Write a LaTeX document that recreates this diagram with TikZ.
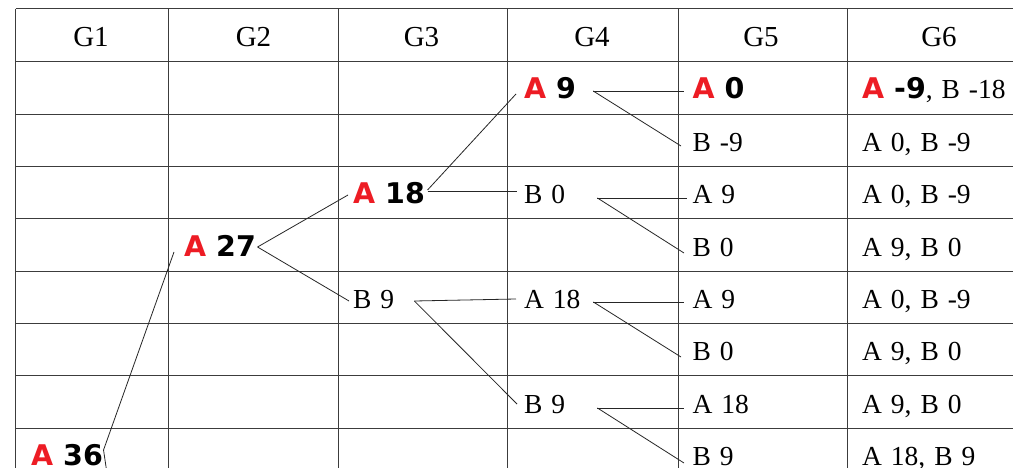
\documentclass[tikz,border=0pt]{standalone}
\usepackage{fontspec}
\setmainfont[WordSpace=1.3]{Liberation Serif}
\newfontfamily\dvsans{DejaVu Sans}
\definecolor{hired}{RGB}{237,28,36}
\definecolor{rule}{RGB}{60,60,60}
\newcommand\bsans{\fontsize{28.5}{30}\selectfont\dvsans\bfseries}
\newcommand\topA[1]{{\bsans{\color{hired}A} #1}}
\tikzset{
  cell/.style={anchor=base west, inner sep=0pt, font=\fontsize{27.5}{30}\selectfont},
  head/.style={anchor=base, inner sep=0pt, font=\fontsize{29}{32}\selectfont},
  grid/.style={draw=rule, line width=1pt},
  branch/.style={draw=black!85, line width=0.8pt},
}
\begin{document}
\begin{tikzpicture}[x=1pt, y=-1pt]
\useasboundingbox (0,0) rectangle (1029,468);
\clip (0,0) rectangle (1029,468);
\fill[white] (0,0) rectangle (1029,468);

% table rules
\foreach \yy in {9,62,114.3,166.6,218.9,271.2,323.5,375.8,428.1}
  \draw[grid] (15.5,\yy) -- (1013,\yy);
\foreach \xx in {15.5,168,338,507,678,847}
  \draw[grid] (\xx,9) -- (\xx,470);

% column headings
\node[head] (h1) at (91,46.5) {G1};
\node[head] (h2) at (253.5,46.5) {G2};
\node[head] (h3) at (421.5,46.5) {G3};
\node[head] (h4) at (592,46.5) {G4};
\node[head] (h5) at (761,46.5) {G5};
\node[head] (h6) at (939,46.5) {G6};

% G1
\node[cell] (a36) at (31,465) {\topA{36}};
% G2
\node[cell] (a27) at (184,256) {\topA{27}};
% G3
\node[cell] (a18c) at (353,204) {\topA{18}};
\node[cell] (b9c) at (353,308.5) {B 9};
% G4
\node[cell] (a9d) at (524,99) {\topA{9}};
\node[cell] (b0d) at (524,204) {B 0};
\node[cell] (a18d) at (524,308.5) {A 18};
\node[cell] (b9d) at (524,413) {B 9};
% G5
\node[cell] (a0e) at (692.5,99) {\topA{0}};
\node[cell] (bm9e) at (692.5,151.5) {B -9};
\node[cell] (a9e) at (692.5,204) {A 9};
\node[cell] (b0e) at (692.5,256) {B 0};
\node[cell] (a9f) at (692.5,308.5) {A 9};
\node[cell] (b0f) at (692.5,360.5) {B 0};
\node[cell] (a18e) at (692.5,413) {A 18};
\node[cell] (b9e) at (692.5,465) {B 9};
% G6
\node[cell] (r1) at (862,99) {\topA{-9}, B -18};
\node[cell] (r2) at (862,151.5) {A 0, B -9};
\node[cell] (r3) at (862,204) {A 0, B -9};
\node[cell] (r4) at (862,256) {A 9, B 0};
\node[cell] (r5) at (862,308.5) {A 0, B -9};
\node[cell] (r6) at (862,360.5) {A 9, B 0};
\node[cell] (r7) at (862,413) {A 9, B 0};
\node[cell] (r8) at (862,465) {A 18, B 9};

% branch that leaves the root downwards
\coordinate (lowchild) at (106.5,470);

% game tree branches
\draw[branch] ([shift={(0.5,-15)}]a36.base east) -- ([shift={(-10,-4)}]a27.base west);
\draw[branch] ([shift={(0.5,-15)}]a36.base east) -- (lowchild);
\draw[branch] ([shift={(1.5,-9)}]a27.base east) -- ([shift={(-5,-9)}]a18c.base west);
\draw[branch] ([shift={(1.5,-9)}]a27.base east) -- ([shift={(-4,-7.5)}]b9c.base west);
\draw[branch] ([shift={(2.5,-14)}]a18c.base east) -- ([shift={(-8,-5)}]a9d.base west);
\draw[branch] ([shift={(2.5,-13)}]a18c.base east) -- ([shift={(-7,-13)}]b0d.base west);
\draw[branch] ([shift={(20,-7.5)}]b9c.base east) -- ([shift={(-8,-9.5)}]a18d.base west);
\draw[branch] ([shift={(20,-7.5)}]b9c.base east) -- ([shift={(-7,-9)}]b9d.base west);
\draw[branch] ([shift={(17,-8)}]a9d.base east) -- ([shift={(-8.5,-8)}]a0e.base west);
\draw[branch] ([shift={(17,-8)}]a9d.base east) -- ([shift={(-11.5,-5.5)}]bm9e.base west);
\draw[branch] ([shift={(32,-6)}]b0d.base east) -- ([shift={(-5.5,-6)}]a9e.base west);
\draw[branch] ([shift={(32,-6)}]b0d.base east) -- ([shift={(-8.5,-3)}]b0e.base west);
\draw[branch] ([shift={(12.7,-6.5)}]a18d.base east) -- ([shift={(-8.5,-6.5)}]a9f.base west);
\draw[branch] ([shift={(12.7,-6.5)}]a18d.base east) -- ([shift={(-11.5,-3.5)}]b0f.base west);
\draw[branch] ([shift={(32,-5)}]b9d.base east) -- ([shift={(-8.5,-5)}]a18e.base west);
\draw[branch] ([shift={(32,-5)}]b9d.base east) -- ([shift={(-8.5,-2)}]b9e.base west);
\end{tikzpicture}
\end{document}
